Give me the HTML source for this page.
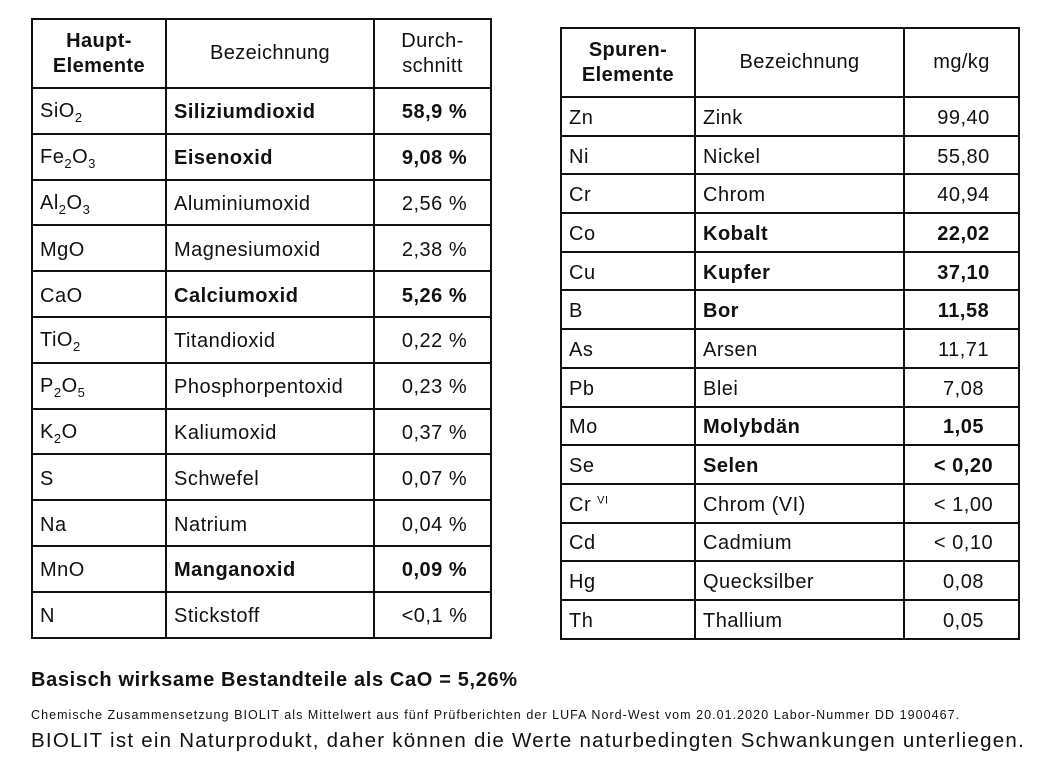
<!DOCTYPE html>
<html><head><meta charset="utf-8"><style>
body{margin:0;width:1044px;height:767px;background:#fff;position:relative;font-family:"Liberation Sans",sans-serif;color:#111;overflow:hidden}
table{position:absolute;border-collapse:collapse;table-layout:fixed}
td{border:2px solid #111;padding:4px 0 0 7px;font-size:20px;vertical-align:middle;white-space:nowrap;letter-spacing:0.5px;box-sizing:border-box}
th{border:2px solid #111;font-size:20px;font-weight:normal;text-align:center;line-height:25px;letter-spacing:0.4px}
th.b{font-weight:bold}
td.r{text-align:center;padding:4px 0 0 4px}
.bd{font-weight:bold}
sub{font-size:13px;vertical-align:-5px}
#t1{left:31px;top:18px;width:459px}
#t1 td{height:45.8px}
#t2{left:560px;top:27px;width:458px}
#t2 td{height:38.7px}
.foot{position:absolute;left:31px;white-space:nowrap}
</style></head><body>
<table id="t1">
<colgroup><col style="width:134px"><col style="width:208px"><col style="width:117px"></colgroup>
<tr style="height:69px"><th class="b">Haupt-<br>Elemente</th><th>Bezeichnung</th><th>Durch-<br>schnitt</th></tr>
<tr><td>SiO<sub>2</sub></td><td class="bd">Siliziumdioxid</td><td class="r bd">58,9 %</td></tr>
<tr><td>Fe<sub>2</sub>O<sub>3</sub></td><td class="bd">Eisenoxid</td><td class="r bd">9,08 %</td></tr>
<tr><td>Al<sub>2</sub>O<sub>3</sub></td><td>Aluminiumoxid</td><td class="r">2,56 %</td></tr>
<tr><td>MgO</td><td>Magnesiumoxid</td><td class="r">2,38 %</td></tr>
<tr><td>CaO</td><td class="bd">Calciumoxid</td><td class="r bd">5,26 %</td></tr>
<tr><td>TiO<sub>2</sub></td><td>Titandioxid</td><td class="r">0,22 %</td></tr>
<tr><td>P<sub>2</sub>O<sub>5</sub></td><td>Phosphorpentoxid</td><td class="r">0,23 %</td></tr>
<tr><td>K<sub>2</sub>O</td><td>Kaliumoxid</td><td class="r">0,37 %</td></tr>
<tr><td>S</td><td>Schwefel</td><td class="r">0,07 %</td></tr>
<tr><td>Na</td><td>Natrium</td><td class="r">0,04 %</td></tr>
<tr><td>MnO</td><td class="bd">Manganoxid</td><td class="r bd">0,09 %</td></tr>
<tr><td>N</td><td>Stickstoff</td><td class="r">&lt;0,1 %</td></tr>
</table>
<table id="t2">
<colgroup><col style="width:134px"><col style="width:209px"><col style="width:115px"></colgroup>
<tr style="height:69px"><th class="b">Spuren-<br>Elemente</th><th>Bezeichnung</th><th>mg/kg</th></tr>
<tr><td>Zn</td><td>Zink</td><td class="r">99,40</td></tr>
<tr><td>Ni</td><td>Nickel</td><td class="r">55,80</td></tr>
<tr><td>Cr</td><td>Chrom</td><td class="r">40,94</td></tr>
<tr><td>Co</td><td class="bd">Kobalt</td><td class="r bd">22,02</td></tr>
<tr><td>Cu</td><td class="bd">Kupfer</td><td class="r bd">37,10</td></tr>
<tr><td>B</td><td class="bd">Bor</td><td class="r bd">11,58</td></tr>
<tr><td>As</td><td>Arsen</td><td class="r">11,71</td></tr>
<tr><td>Pb</td><td>Blei</td><td class="r">7,08</td></tr>
<tr><td>Mo</td><td class="bd">Molybdän</td><td class="r bd">1,05</td></tr>
<tr><td>Se</td><td class="bd">Selen</td><td class="r bd">&lt; 0,20</td></tr>
<tr><td>Cr <sup style="font-size:11px">VI</sup></td><td>Chrom (VI)</td><td class="r">&lt; 1,00</td></tr>
<tr><td>Cd</td><td>Cadmium</td><td class="r">&lt; 0,10</td></tr>
<tr><td>Hg</td><td>Quecksilber</td><td class="r">0,08</td></tr>
<tr><td>Th</td><td>Thallium</td><td class="r">0,05</td></tr>
</table>
<div class="foot" style="top:669px;font-size:20px;font-weight:bold;letter-spacing:0.65px">Basisch wirksame Bestandteile als CaO = 5,26%</div>
<div class="foot" style="top:708px;font-size:12.5px;letter-spacing:1.05px">Chemische Zusammensetzung BIOLIT als Mittelwert aus fünf Prüfberichten der LUFA Nord-West vom 20.01.2020 Labor-Nummer DD 1900467.</div>
<div class="foot" style="top:729px;font-size:20.5px;letter-spacing:1.25px">BIOLIT ist ein Naturprodukt, daher können die Werte naturbedingten Schwankungen unterliegen.</div>
</body></html>
